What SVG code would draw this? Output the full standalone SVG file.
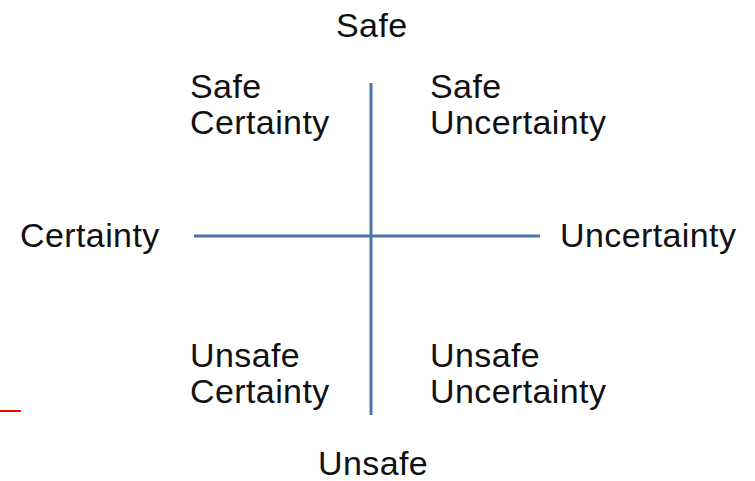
<svg xmlns="http://www.w3.org/2000/svg" width="755" height="481" viewBox="0 0 755 481">
<style>
text{font-family:"Liberation Sans",Arial,Helvetica,sans-serif;font-size:34px;letter-spacing:0.4px;fill:#111;}
.ax{stroke:#4d74a8;stroke-width:3;fill:none;}
</style>
<rect width="755" height="481" fill="#fff"/>
<g id="connectors">
<line class="ax" x1="371" y1="83" x2="371" y2="415"/>
<line class="ax" x1="194" y1="236" x2="540" y2="236"/>
</g>
<line x1="0" y1="411" x2="21" y2="411" stroke="#ff0000" stroke-width="2"/>
<g id="safe"><text x="336" y="37">Safe</text></g>
<g id="unsafe"><text x="318" y="475">Unsafe</text></g>
<g id="certainty"><text x="20" y="247">Certainty</text></g>
<g id="uncertainty"><text x="560" y="247">Uncertainty</text></g>
<g id="safe-certainty"><text x="190" y="98">Safe</text><text x="190" y="134">Certainty</text></g>
<g id="safe-uncertainty"><text x="430" y="98">Safe</text><text x="430" y="134">Uncertainty</text></g>
<g id="unsafe-certainty"><text x="190" y="367">Unsafe</text><text x="190" y="403">Certainty</text></g>
<g id="unsafe-uncertainty"><text x="430" y="367">Unsafe</text><text x="430" y="403">Uncertainty</text></g>
</svg>
